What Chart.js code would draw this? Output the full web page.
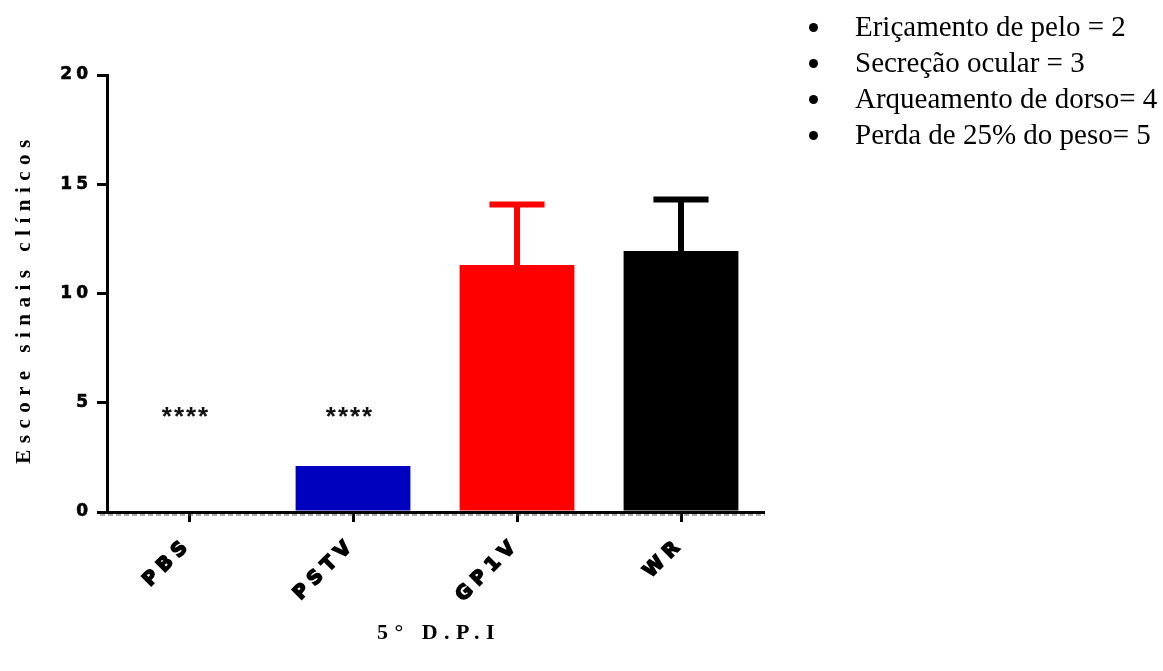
<!DOCTYPE html>
<html lang="pt">
<head>
<meta charset="utf-8">
<title>Escore sinais clínicos – 5° D.P.I</title>
<script src="https://cdn.jsdelivr.net/npm/chart.js@4/dist/chart.umd.min.js"></script>
<style>
  html, body { margin: 0; padding: 0; background: #fff; }
  #wrap { position: relative; width: 1163px; height: 671px; overflow: hidden; }
  #wrap canvas { position: absolute; left: 0; top: 0; }
  #key {
    position: absolute; left: 855px; top: 8px; margin: 0; padding: 0; list-style: none;
    font: 29px "Liberation Serif", "Times New Roman", serif; line-height: 36px; color: #000;
  }
  #key li { position: relative; white-space: nowrap; }
  #key li::before {
    content: ""; position: absolute; left: -46px; top: 15px;
    width: 9px; height: 9px; border-radius: 50%; background: #000;
  }
</style>
</head>
<body>
<div id="wrap">
  <canvas id="chart" width="1163" height="671"></canvas>
  <ul id="key"></ul>
</div>
<script>
// Groups and clinical score (mean and SD) on day 5 post infection
const categories   = ['PBS', 'PSTV', 'GP1V', 'WR'];
const meanScores   = [0, 2.1, 11.3, 11.95];
const sdScores     = [0, 0, 2.77, 2.35];
const significance = ['****', '****', '', ''];
const barColors    = ['#0000BF', '#0000BF', '#FF0000', '#000000'];
const yTickValues  = [0, 5, 10, 15, 20];
const scoreKey = [
  'Eriçamento de pelo = 2',
  'Secreção ocular = 3',
  'Arqueamento de dorso= 4',
  'Perda de 25% do peso= 5'
];

// Scoring key shown at the top right
const keyList = document.getElementById('key');
scoreKey.forEach(t => {
  const li = document.createElement('li');
  li.textContent = t;
  keyList.appendChild(li);
});

// Scales whose tick labels and titles are drawn with extra letter spacing;
// the title is nudged to recentre it after the trailing spacing.
function spacedScale(Base, id, tickSpacing, titleSpacing, titleNudge) {
  return class extends Base {
    static id = id;
    static defaults = Base.defaults;
    drawLabels(area) {
      const c = this.ctx; c.save(); c.letterSpacing = tickSpacing; super.drawLabels(area); c.restore();
    }
    drawTitle() {
      const c = this.ctx; c.save(); c.letterSpacing = titleSpacing;
      c.translate(titleNudge[0], titleNudge[1]);
      super.drawTitle(); c.restore();
    }
  };
}
const SpacedCategory = spacedScale(Chart.CategoryScale, 'spacedCategory', '6px', '6.5px', [4, 0]);
const SpacedLinear   = spacedScale(Chart.LinearScale, 'spacedLinear', '4px', '6.5px', [0, 5]);
Chart.register(SpacedCategory, SpacedLinear);

// Upward SD whiskers with caps
const errorBars = {
  id: 'errorBars',
  afterDatasetsDraw(chart) {
    const { ctx, scales: { y } } = chart;
    chart.getDatasetMeta(0).data.forEach((bar, i) => {
      const sd = sdScores[i];
      if (!sd) return;
      const base = y.getPixelForValue(meanScores[i]);
      const top = y.getPixelForValue(meanScores[i] + sd);
      const half = bar.width * 0.24;
      ctx.save();
      ctx.strokeStyle = barColors[i];
      ctx.lineWidth = 6;
      ctx.beginPath();
      ctx.moveTo(bar.x, base); ctx.lineTo(bar.x, top);
      ctx.moveTo(bar.x - half, top); ctx.lineTo(bar.x + half, top);
      ctx.stroke();
      ctx.restore();
    });
  }
};

// Significance stars and the dotted zero line under the x axis
const annotations = {
  id: 'annotations',
  afterDraw(chart) {
    const { ctx, chartArea, scales: { y } } = chart;
    const zero = y.getPixelForValue(0);
    ctx.save();
    ctx.strokeStyle = '#555';
    ctx.lineWidth = 1;
    ctx.setLineDash([5, 3]);
    ctx.beginPath();
    ctx.moveTo(chartArea.left - 7, zero + 3);
    ctx.lineTo(chartArea.right + 2, zero + 3);
    ctx.stroke();
    ctx.restore();

    const starY = y.getPixelForValue(4.5);
    ctx.save();
    ctx.fillStyle = '#111';
    ctx.font = 'bold 26px "Liberation Sans", Arial, sans-serif';
    ctx.letterSpacing = '2px';
    ctx.textAlign = 'center';
    ctx.textBaseline = 'middle';
    chart.getDatasetMeta(0).data.forEach((bar, i) => {
      if (significance[i]) ctx.fillText(significance[i], bar.x - 3, starY + 4);
    });
    ctx.restore();
  }
};

new Chart(document.getElementById('chart'), {
  type: 'bar',
  data: {
    labels: categories,
    datasets: [{
      data: meanScores,
      backgroundColor: barColors,
      borderWidth: 0,
      barPercentage: 0.70,
      categoryPercentage: 1.0
    }]
  },
  plugins: [errorBars, annotations],
  options: {
    responsive: false,
    animation: false,
    events: [],
    layout: { padding: { left: 0, top: 75, right: 400, bottom: 0 } },
    plugins: { legend: { display: false }, tooltip: { enabled: false } },
    scales: {
      x: {
        type: 'spacedCategory',
        offset: true,
        afterFit(scale) { scale.height = 159; },
        grid: {
          offset: false, drawOnChartArea: false, drawTicks: true,
          tickLength: 10, lineWidth: 3, tickWidth: 3, color: '#000', tickColor: '#000'
        },
        border: { display: true, color: '#000', width: 3 },
        ticks: {
          color: '#000', minRotation: 45, maxRotation: 45, padding: 11,
          textStrokeColor: '#000', textStrokeWidth: 1.6,
          font: { family: '"DejaVu Sans", sans-serif', size: 19, weight: 'bold' }
        },
        title: {
          display: true, text: '5° D.P.I', color: '#000',
          font: { family: '"Liberation Serif", "Times New Roman", serif', size: 22, weight: 'bold' },
          padding: { top: 0, bottom: 24 }
        }
      },
      y: {
        type: 'spacedLinear',
        min: 0, max: 20,
        afterFit(scale) { scale.width = 107; },
        afterBuildTicks(scale) { scale.ticks = yTickValues.map(v => ({ value: v })); },
        grid: {
          drawOnChartArea: false, drawTicks: true,
          tickLength: 10, lineWidth: 3, tickWidth: 3, color: '#000', tickColor: '#000'
        },
        border: { display: true, color: '#000', width: 3 },
        ticks: {
          color: '#000', padding: 5,
          textStrokeColor: '#000', textStrokeWidth: 0.6,
          font: { family: '"DejaVu Sans", sans-serif', size: 17, weight: 'bold' }
        },
        title: {
          display: true, text: 'Escore sinais clínicos', color: '#000',
          font: { family: '"Liberation Serif", "Times New Roman", serif', size: 21, weight: 'bold' },
          padding: { top: 12, bottom: 0 }
        }
      }
    }
  }
});
</script>
</body>
</html>
